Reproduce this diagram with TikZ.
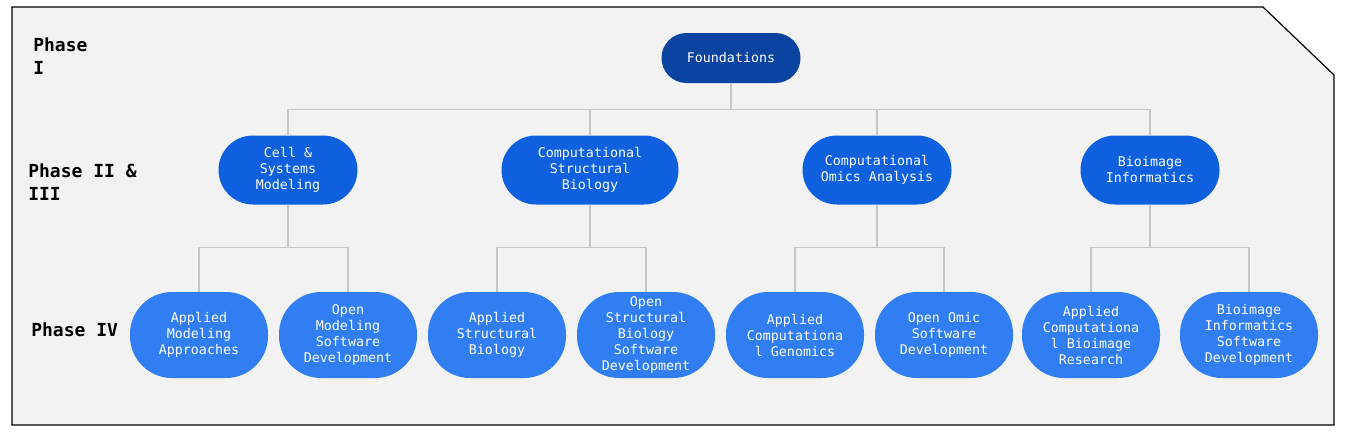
\documentclass[tikz,border=0pt]{standalone}
\usepackage{fontspec}
\setmonofont{DejaVu Sans Mono}
\usepackage{tikz}
\usetikzlibrary{positioning}

\definecolor{panelbg}{HTML}{F2F2F2}
\definecolor{rootblue}{HTML}{0A43A0}
\definecolor{midblue}{HTML}{0F60DE}
\definecolor{leafblue}{HTML}{317DF2}
\definecolor{linkgray}{HTML}{C6C6C6}

% sizes below are in pt (1px = 0.75pt)
\tikzset{
  box/.style={rectangle, fill=#1, text=white, align=center, inner sep=0pt,
    font=\ttfamily\fontsize{10}{12}\selectfont},
  rootbox/.style={box=rootblue, minimum width=104.25pt, minimum height=37.5pt, rounded corners=18.7pt},
  midbox/.style={box=midblue, minimum height=51.75pt, rounded corners=25.8pt},
  leafbox/.style={box=leafblue, minimum width=103.5pt, minimum height=64.5pt, rounded corners=31.5pt},
  phase/.style={anchor=north west, align=left, inner sep=0pt,
    font=\ttfamily\bfseries\fontsize{13.5}{17}\selectfont},
  link/.style={draw=linkgray, line width=0.8pt}
}

\begin{document}
\begin{tikzpicture}[x=0.75pt, y=-0.75pt]
		\useasboundingbox (0,0) rectangle (1346,440);
		% Background panel with cut corner
		\draw[fill=panelbg, line width=0.9pt] (12,7) -- (1263,7) -- (1334,75) -- (1334,425) -- (12,425) -- cycle;
		% Phase labels
		\node[phase] (p1) at (33,38) {Phase\\I};
		\node[phase] (p2) at (28,164) {Phase II \&\\III};
		\node[phase] (p4) at (31,323) {Phase IV};
		% Phase I
		\node[rootbox] (found) at (731,58) {Foundations};
		% Phase II & III
		\node[midbox, minimum width=104.25pt] (cell) at (288,170) {Cell \&\\Systems\\Modeling};
		\node[midbox, minimum width=132.75pt] (struct) at (590,170) {Computational\\Structural\\Biology};
		\node[midbox, minimum width=111.75pt] (omics) at (877,170) {Computational\\Omics Analysis};
		\node[midbox, minimum width=104.25pt] (bioimg) at (1150,170) {Bioimage\\Informatics};
		% Phase IV
		\node[leafbox] (applmod) at (199,335) {Applied\\Modeling\\Approaches};
		\node[leafbox] (openmod) at (348,335) {Open\\Modeling\\Software\\Development};
		\node[leafbox] (applstr) at (497,335) {Applied\\Structural\\Biology};
		\node[leafbox] (openstr) at (646,335) {Open\\Structural\\Biology\\Software\\Development};
		\node[leafbox] (applgen) at (795,335) {Applied\\Computationa\\l Genomics};
		\node[leafbox] (openomic) at (944,335) {Open Omic\\Software\\Development};
		\node[leafbox] (applbio) at (1091,335) {Applied\\Computationa\\l Bioimage\\Research};
		\node[leafbox] (openbio) at (1249,335) {Bioimage\\Informatics\\Software\\Development};
		% Connectors
		\foreach \n in {cell,struct,omics,bioimg}
			\draw[link] (found.south) -- ++(0,26) -| (\n.north);
		\foreach \a/\b in {cell/applmod, cell/openmod, struct/applstr, struct/openstr,
			omics/applgen, omics/openomic, bioimg/applbio, bioimg/openbio}
			\draw[link] (\a.south) -- ++(0,43) -| (\b.north);
	\end{tikzpicture}
\end{document}
